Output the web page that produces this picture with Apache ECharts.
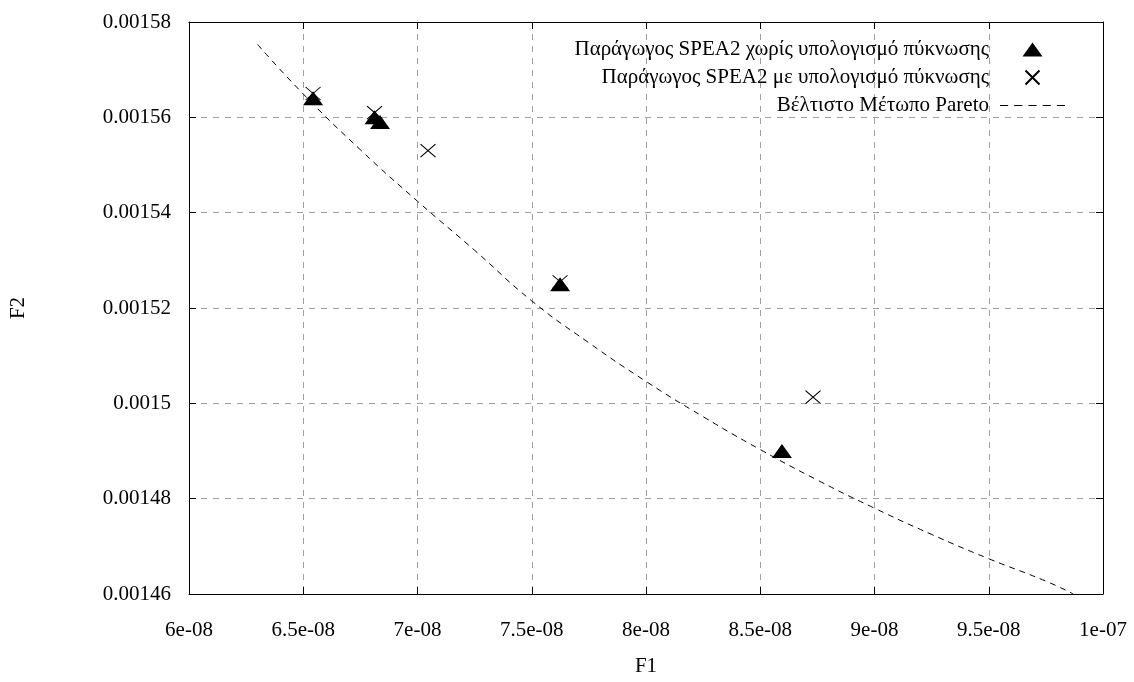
<!DOCTYPE html>
<html>
<head>
<meta charset="utf-8">
<script src="https://cdn.jsdelivr.net/npm/echarts@6/dist/echarts.min.js"></script>
<style>
  html, body { margin: 0; padding: 0; background: #fff; }
  #main { width: 1134px; height: 682px; }
</style>
</head>
<body>
<div id="main"></div>
<script>
// data
var xTicks = ['6e-08', '6.5e-08', '7e-08', '7.5e-08', '8e-08', '8.5e-08', '9e-08', '9.5e-08', '1e-07'];
var yTicks = ['0.00146', '0.00148', '0.0015', '0.00152', '0.00154', '0.00156', '0.00158'];

var seriesNames = [
    'Παράγωγος SPEA2 χωρίς υπολογισμό πύκνωσης',
    'Παράγωγος SPEA2 με υπολογισμό πύκνωσης',
    'Βέλτιστο Μέτωπο Pareto'
];

var triF1 = [6.543e-8, 6.812e-8, 6.836e-8, 7.624e-8, 8.595e-8];
var triF2 = [0.001564, 0.00156, 0.001559, 0.001525, 0.00149];

var crossF1 = [6.543e-8, 6.812e-8, 7.046e-8, 7.624e-8, 8.731e-8];
var crossF2 = [0.001565, 0.001561, 0.001553, 0.0015255, 0.0015013];

var paretoF1 = [6.30e-8, 6.5e-8, 6.75e-8, 7.0e-8, 7.25e-8, 7.5e-8, 7.75e-8, 8.0e-8, 8.25e-8, 8.5e-8, 8.75e-8, 9.0e-8, 9.25e-8, 9.5e-8, 9.75e-8, 9.87e-8];
var paretoF2 = [0.0015753, 0.0015649, 0.0015532, 0.0015424, 0.0015321, 0.0015215, 0.0015127, 0.0015046, 0.0014972, 0.0014903, 0.0014839, 0.001478, 0.0014725, 0.0014674, 0.0014627, 0.00146];

var xMin = 6e-8, xMax = 1e-7, xStep = 0.5e-8;
var yMin = 0.00146, yMax = 0.00158, yStep = 0.00002;

function zip(a, b) {
    return a.map(function (v, i) { return [v, b[i]]; });
}

var font = 'Liberation Serif';
var gridDash = { color: '#a0a0a0', type: [6, 6], width: 1 };
var triPath = 'path://M5,0L10,7L0,7Z';
var crossPath = 'path://M0,0L10,10M10,0L0,10';
var dashPath = 'path://M0,0H8V1H0Z M14,0H22V1H14Z M28,0H36V1H28Z M42,0H50V1H42Z M56,0H64V1H56Z';

var myChart = echarts.init(document.getElementById('main'));

var option = {
    backgroundColor: '#fff',
    animation: false,
    textStyle: { fontFamily: font, color: '#000' },
    grid: { left: 189, right: 31, top: 22, bottom: 79 },
    legend: {
        orient: 'vertical',
        right: 64,
        top: 34,
        align: 'right',
        itemWidth: 65,
        itemHeight: 14,
        itemGap: 7,
        textStyle: { fontFamily: font, fontSize: 21, color: '#000', padding: [0, 6, 0, 0] },
        data: [
            { name: seriesNames[0], icon: triPath, itemStyle: { color: '#000' } },
            { name: seriesNames[1], icon: crossPath },
            { name: seriesNames[2], icon: dashPath, itemStyle: { color: '#000' } }
        ]
    },
    xAxis: [{
        type: 'value',
        min: xMin, max: xMax, interval: xStep,
        name: 'F1', nameLocation: 'middle', nameGap: 62,
        nameTextStyle: { fontFamily: font, fontSize: 21, color: '#000' },
        axisLine: { show: true, lineStyle: { color: '#000' } },
        axisTick: { show: true, inside: true, length: 7, lineStyle: { color: '#000' } },
        axisLabel: {
            fontFamily: font, fontSize: 21, color: '#000', margin: 26,
            formatter: function (v) { return xTicks[Math.round((v - xMin) / xStep)]; }
        },
        splitLine: { show: true, lineStyle: gridDash }
    }, {
        type: 'value', position: 'top',
        min: xMin, max: xMax, interval: xStep,
        axisLine: { show: true, lineStyle: { color: '#000' } },
        axisTick: { show: true, inside: true, length: 7, lineStyle: { color: '#000' } },
        axisLabel: { show: false },
        splitLine: { show: false }
    }],
    yAxis: [{
        type: 'value',
        min: yMin, max: yMax, interval: yStep,
        name: 'F2', nameLocation: 'middle', nameGap: 160, nameRotate: 90,
        nameTextStyle: { fontFamily: font, fontSize: 21, color: '#000' },
        axisLine: { show: true, lineStyle: { color: '#000' } },
        axisTick: { show: true, inside: true, length: 7, lineStyle: { color: '#000' } },
        axisLabel: {
            fontFamily: font, fontSize: 21, color: '#000', margin: 18,
            formatter: function (v) { return yTicks[Math.round((v - yMin) / yStep)]; }
        },
        splitLine: { show: true, lineStyle: gridDash }
    }, {
        type: 'value', position: 'right',
        min: yMin, max: yMax, interval: yStep,
        axisLine: { show: true, lineStyle: { color: '#000' } },
        axisTick: { show: true, inside: true, length: 7, lineStyle: { color: '#000' } },
        axisLabel: { show: false },
        splitLine: { show: false }
    }],
    series: [{
        name: seriesNames[0],
        type: 'scatter',
        symbol: triPath,
        symbolSize: [20, 14],
        itemStyle: { color: '#000', opacity: 1 },
        data: zip(triF1, triF2),
        z: 3
    }, {
        name: seriesNames[1],
        type: 'scatter',
        symbol: crossPath,
        symbolSize: [15, 13],
        itemStyle: { color: 'transparent', borderColor: '#000', borderWidth: 1, opacity: 1 },
        data: zip(crossF1, crossF2),
        z: 2
    }, {
        name: seriesNames[2],
        type: 'line',
        smooth: true,
        showSymbol: false,
        symbol: 'none',
        itemStyle: { color: '#000' },
        lineStyle: { color: '#000', width: 1, type: [6, 5] },
        data: zip(paretoF1, paretoF2),
        z: 1
    }]
};

myChart.setOption(option);
</script>
</body>
</html>
